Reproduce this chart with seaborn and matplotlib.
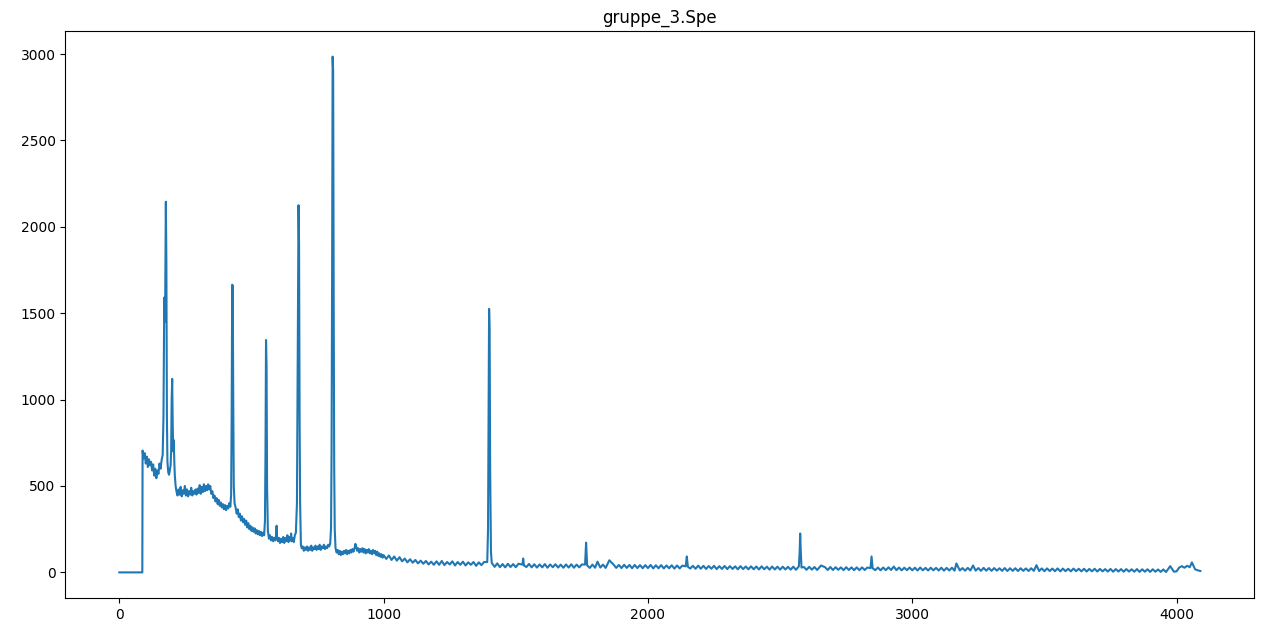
import numpy as np
import pandas as pd
import matplotlib
matplotlib.use("Agg")
import matplotlib.pyplot as plt
from matplotlib.ticker import MultipleLocator
import seaborn as sns

# Low-energy part of the spectrum (channel, counts)
low_channels = [
    0, 87, 88, 92, 96, 100, 104, 108, 112, 116, 120, 124, 128, 132, 136, 140, 144, 148,
    152, 156, 160, 164, 167, 170, 173, 176, 178, 180, 182, 185, 188, 191, 194, 196, 198,
    200, 202, 204, 206, 208, 210, 213, 216, 220, 224, 228, 232, 236, 240, 244, 248, 252,
    256, 260, 264, 268, 272, 276, 280, 284, 288, 292, 296, 300, 304, 308, 312, 316, 320,
    324, 328, 332, 336, 340, 344, 348, 352, 356, 360, 364, 368, 372, 376, 380, 384, 388,
    392, 396, 400, 404, 408, 412, 416, 420, 423, 425, 427, 429, 431, 433, 436, 440, 444,
    448, 452, 456, 460, 464, 468, 472, 476, 480, 484, 488, 492, 496, 500, 504, 508, 512,
    516, 520, 524, 528, 532, 536, 540, 544, 548, 551, 553, 555, 557, 559, 562, 566, 570,
    574, 578, 582, 586, 590, 593, 595, 597, 600, 604, 608, 612, 616, 620, 624, 628, 632,
    636, 640, 644, 648, 650, 652, 656, 660, 664, 668, 672, 674, 676, 678, 680, 682, 684,
    687, 690, 694, 698, 702, 706, 710, 714, 718, 722, 726, 730, 734, 738, 742, 746, 750,
    754, 758, 762, 766, 770, 774, 778, 782, 786, 790, 794, 798, 801, 803, 805, 807, 809,
    811, 813, 815, 818, 822, 826, 830, 834, 838, 842, 846, 850, 854, 858, 862, 866, 870,
    874, 878, 882, 886, 890, 893, 896, 900, 904, 908, 912, 916, 920, 924, 928, 932, 936,
    940, 944, 948, 952, 956, 960, 964, 968, 972, 976, 980, 984, 988, 992, 996,
]
low_counts = [
    0, 0, 705, 660, 690, 630, 670, 610, 655, 620, 640, 590, 625, 560, 600, 545, 590, 570,
    630, 600, 650, 680, 900, 1590, 1450, 2145, 1800, 900, 640, 580, 565, 590, 620, 700, 1000,
    1120, 850, 700, 765, 640, 560, 500, 470, 445, 480, 450, 495, 440, 475, 455, 500, 445,
    480, 440, 470, 450, 490, 445, 470, 455, 480, 450, 485, 460, 505, 455, 495, 465, 510,
    470, 500, 475, 510, 480, 500, 455, 470, 430, 445, 410, 430, 395, 420, 385, 405, 375,
    395, 365, 390, 360, 385, 370, 400, 380, 450, 900, 1665, 1660, 1000, 500, 400, 375, 340,
    365, 320, 340, 300, 325, 290, 310, 275, 300, 260, 285, 250, 270, 240, 260, 235, 255,
    225, 245, 220, 240, 215, 235, 210, 230, 215, 300, 700, 1345, 1200, 500, 240, 195, 215,
    185, 205, 180, 200, 185, 215, 270, 200, 180, 200, 170, 195, 175, 205, 170, 200, 180,
    215, 175, 205, 185, 225, 180, 200, 175, 215, 230, 400, 1000, 1700, 2125, 1900, 900, 400,
    160, 140, 150, 125, 145, 130, 150, 125, 145, 130, 155, 125, 145, 135, 155, 130, 150,
    135, 160, 130, 150, 140, 160, 135, 150, 140, 160, 150, 170, 260, 700, 1700, 2985, 2900,
    1600, 600, 250, 140, 115, 130, 105, 125, 100, 120, 105, 125, 110, 130, 105, 125, 110,
    130, 115, 135, 120, 140, 165, 150, 125, 140, 115, 135, 120, 140, 115, 135, 110, 130,
    115, 135, 110, 125, 105, 130, 110, 125, 100, 120, 95, 110, 90, 105, 85,
]

# Continuum above channel 1000, one value every 10 channels (1000 ... 4090)
tail_start = 1000
tail_step = 10
tail_counts = [
    100, 78, 98, 72, 92, 68, 88, 64, 80, 58,
    76, 56, 72, 52, 68, 50, 66, 46, 62, 44,
    64, 44, 66, 42, 60, 46, 64, 40, 60, 44,
    62, 40, 58, 44, 60, 38, 58, 42, 60, 52,
    50, 50, 32, 52, 30, 48, 29, 50, 31, 48,
    30, 50, 28, 47, 31, 49, 29, 47, 28, 46,
    29, 48, 27, 46, 30, 47, 28, 45, 27, 46,
    28, 47, 27, 45, 29, 46, 28, 45, 26, 45,
    27, 46, 28, 45, 26, 44, 27, 45, 26, 43,
    25, 44, 26, 43, 24, 43, 25, 42, 24, 42,
    25, 43, 23, 41, 24, 42, 23, 40, 24, 41,
    22, 40, 23, 39, 21, 40, 22, 38, 21, 39,
    21, 38, 20, 37, 21, 38, 19, 36, 20, 37,
    19, 36, 20, 35, 18, 36, 19, 34, 18, 35,
    18, 34, 17, 35, 18, 33, 16, 34, 17, 33,
    16, 33, 17, 32, 16, 33, 15, 32, 16, 31,
    15, 32, 16, 31, 14, 31, 15, 30, 14, 31,
    14, 30, 15, 29, 13, 30, 14, 29, 13, 29,
    13, 29, 14, 28, 12, 29, 13, 28, 12, 28,
    13, 29, 14, 34, 13, 28, 12, 27, 13, 28,
    12, 27, 11, 28, 12, 26, 11, 27, 12, 26,
    11, 27, 10, 26, 11, 27, 10, 26, 11, 25,
    10, 26, 11, 40, 10, 25, 9, 26, 10, 25,
    9, 25, 10, 24, 9, 25, 8, 24, 9, 24,
    8, 24, 9, 23, 8, 24, 9, 23, 8, 23,
    7, 23, 8, 22, 7, 23, 6, 22, 7, 21,
    6, 22, 7, 21, 6, 21, 5, 20, 6, 21,
    5, 20, 6, 19, 5, 20, 4, 19, 5, 19,
    4, 19, 5, 18, 4, 19, 3, 18, 4, 18,
    3, 18, 4, 17, 3, 17, 2, 16, 3, 4,
    6, 28, 36, 27, 38, 30, 45, 18, 12, 8,
]

# Peaks sitting on the high-energy continuum
peak_channels = [
    1392, 1395, 1397, 1399, 1401, 1403, 1406, 1409,
    1525, 1528, 1531,
    1762, 1766, 1770,
    1809, 1854,
    2143, 2147, 2151,
    2571, 2574, 2576, 2578, 2581,
    2655,
    2842, 2846, 2850,
    3167, 3470, 3976, 4058,
]
peak_counts = [
    60, 250, 900, 1525, 1400, 600, 120, 55,
    45, 80, 40,
    45, 172, 40,
    62, 70,
    35, 92, 33,
    35, 120, 225, 130, 28,
    40,
    25, 92, 24,
    52, 42, 36, 58,
]

tail = pd.DataFrame({
    "channel": [tail_start + i * tail_step for i in range(len(tail_counts))],
    "counts": tail_counts,
})
# drop continuum samples that fall under a peak
pk = np.array(peak_channels)
near_peak = tail["channel"].apply(lambda c: np.any(np.abs(pk - c) <= 6))
tail = tail[~near_peak]

spectrum = pd.concat([
    pd.DataFrame({"channel": low_channels, "counts": low_counts}),
    tail,
    pd.DataFrame({"channel": peak_channels, "counts": peak_counts}),
]).sort_values("channel").reset_index(drop=True)

fig, ax = plt.subplots(figsize=(12.8, 6.29), dpi=100)
fig.subplots_adjust(left=0.051, right=0.980, bottom=0.049, top=0.951)

sns.lineplot(data=spectrum, x="channel", y="counts", ax=ax,
             color="#1f77b4", linewidth=1.5, estimator=None, sort=True)

ax.xaxis.set_major_locator(MultipleLocator(1000))
ax.set_title("gruppe_3.Spe")
ax.set_xlabel("")
ax.set_ylabel("")

fig.savefig("out.png", dpi=100)
